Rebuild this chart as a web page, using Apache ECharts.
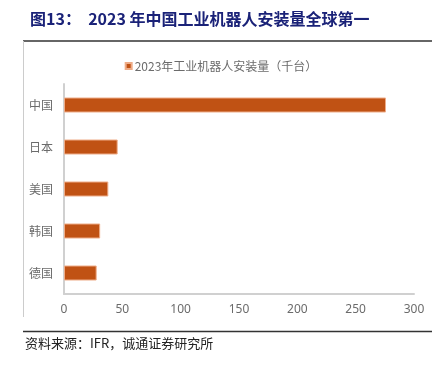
<!DOCTYPE html>
<html>
<head>
<meta charset="utf-8">
<script src="https://cdn.jsdelivr.net/npm/echarts@6/dist/echarts.min.js"></script>
<style>
  html, body { margin: 0; padding: 0; background: #fff; }
  #chart { width: 442px; height: 368px; }
</style>
</head>
<body>
<div id="chart"></div>
<script>
// 2023年工业机器人安装量（千台）
const countries = ["中国", "日本", "美国", "韩国", "德国"];
const installs = [276, 46, 38, 31, 28];
const xTicks = [0, 50, 100, 150, 200, 250, 300];

const chart = echarts.init(document.getElementById("chart"));

const option = {
  backgroundColor: "#fff",
  animation: false,
  title: {
    text: "图13：  2023 年中国工业机器人安装量全球第一",
    left: 25,
    top: 6,
    textStyle: {
      color: "#1a2278",
      fontSize: 16,
      fontWeight: "bold",
      fontFamily: "Noto Sans CJK SC",
    },
  },
  legend: {
    data: ["2023年工业机器人安装量（千台）"],
    top: 55,
    left: "center",
    itemWidth: 6,
    itemHeight: 6,
    itemGap: 4,
    icon: "rect",
    textStyle: {
      color: "#6b6b6b",
      fontSize: 12,
      fontFamily: "Noto Sans CJK SC",
      padding: [0, 0, 0, -2],
    },
  },
  grid: {
    left: 64,
    right: 28,
    top: 84,
    height: 210,
  },
  xAxis: {
    type: "value",
    min: xTicks[0],
    max: xTicks[xTicks.length - 1],
    interval: 50,
    splitLine: { show: false },
    axisLine: { show: true, lineStyle: { color: "#d0d0d0", width: 2 } },
    axisTick: { show: false },
    axisLabel: {
      color: "#6b6b6b",
      fontSize: 12,
      fontFamily: "Noto Sans",
      margin: 10,
    },
  },
  yAxis: {
    type: "category",
    inverse: true,
    data: countries,
    axisLine: { show: true, lineStyle: { color: "#d0d0d0", width: 2 } },
    axisTick: { show: false },
    axisLabel: {
      color: "#6b6b6b",
      fontSize: 12,
      fontFamily: "Noto Sans CJK SC",
      margin: 11,
    },
  },
  series: [
    {
      name: "2023年工业机器人安装量（千台）",
      type: "bar",
      data: installs,
      barWidth: 15,
      itemStyle: {
        color: "#c05214",
        borderColor: "#eeac88",
        borderWidth: 1,
      },
    },
  ],
  graphic: [
    {
      type: "line",
      shape: { x1: 23, y1: 41, x2: 432, y2: 41 },
      style: { stroke: "#333", lineWidth: 1.5 },
    },
    {
      type: "line",
      shape: { x1: 23.5, y1: 41, x2: 23.5, y2: 317 },
      style: { stroke: "#cccccc", lineWidth: 1 },
    },
    {
      type: "line",
      shape: { x1: 23, y1: 331.5, x2: 432, y2: 331.5 },
      style: { stroke: "#333", lineWidth: 1.5 },
    },
    {
      type: "text",
      left: 25,
      top: 337,
      style: {
        text: "资料来源：IFR，诚通证券研究所",
        fill: "#222",
        fontSize: 13,
        fontFamily: "Noto Sans CJK SC",
      },
    },
  ],
};

chart.setOption(option);
</script>
</body>
</html>
